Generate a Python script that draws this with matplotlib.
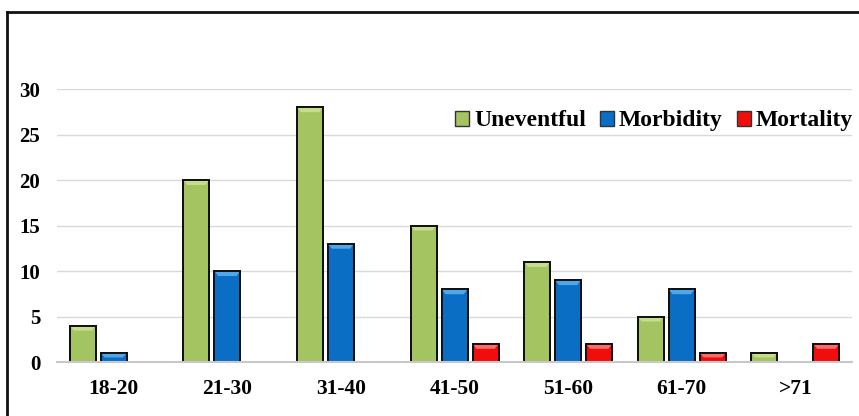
import numpy as np
import matplotlib
matplotlib.use("Agg")
import matplotlib.pyplot as plt
from matplotlib.lines import Line2D
from matplotlib.patches import Patch, Polygon

age_groups = ["18-20", "21-30", "31-40", "41-50", "51-60", "61-70", ">71"]
uneventful = [4, 20, 28, 15, 11, 5, 1]
morbidity = [1, 10, 13, 8, 9, 8, 0]
mortality = [0, 0, 0, 2, 2, 1, 2]

series = [
    ("Uneventful", uneventful, "#A4C462", "#C6DE8C"),
    ("Morbidity", morbidity, "#0A6EC4", "#4FA6EA"),
    ("Mortality", mortality, "#F20D0D", "#FF6A6A"),
]

plt.rcParams["font.family"] = ["Liberation Serif", "DejaVu Serif"]
plt.rcParams["font.weight"] = "bold"

fig = plt.figure(figsize=(8.59, 4.16), dpi=100)
ax = fig.add_axes([0.0664, 0.1298, 0.9256, 0.6562])

x = np.arange(len(age_groups))
bar_w = 0.23
step = 0.273
bevel = 0.55  # height of the top bevel in data units
for i, (name, vals, color, light) in enumerate(series):
    pos = x + (i - 1) * step
    vals = np.asarray(vals, dtype=float)
    keep = vals > 0
    bars = ax.bar(pos[keep], vals[keep], width=bar_w, color=color,
                  edgecolor="#111111", linewidth=1.4, zorder=3, label=name)
    # light bevel across the top of each bar
    for r in bars:
        x0, w, h = r.get_x(), r.get_width(), r.get_height()
        b = min(bevel, h * 0.5)
        poly = Polygon([(x0, h), (x0 + w, h), (x0 + w * 0.85, h - b),
                        (x0 + w * 0.15, h - b)], closed=True,
                       facecolor=light, edgecolor="none", zorder=3.5)
        ax.add_patch(poly)
        ax.bar(r.get_x() + w / 2, h, width=w, fill=False,
               edgecolor="#111111", linewidth=1.4, zorder=4)

ax.set_xlim(-0.5, len(age_groups) - 0.5)
ax.set_ylim(0, 30)
ax.set_yticks(range(0, 31, 5))
ax.set_xticks(x)
ax.set_xticklabels(age_groups, fontsize=15.5, fontweight="bold")
ax.tick_params(axis="y", labelsize=15, length=0, pad=12)
ax.tick_params(axis="x", length=0, pad=12)
for lab in ax.get_yticklabels():
    lab.set_fontweight("bold")

ax.grid(axis="y", color="#D9D9D9", linewidth=1, zorder=0)
ax.set_axisbelow(True)
for side in ["top", "right", "left"]:
    ax.spines[side].set_visible(False)
ax.spines["bottom"].set_color("#C8C8C8")
ax.spines["bottom"].set_linewidth(1.5)
ax.spines["bottom"].set_zorder(4.5)

handles = [Patch(facecolor=c, edgecolor="#333333", linewidth=1) for _, _, c, _ in series]
ax.legend(handles, [s[0] for s in series], loc="center right",
          bbox_to_anchor=(1.013, 0.883), ncol=3, frameon=False,
          prop={"size": 17, "weight": "bold"},
          handlelength=0.6, handleheight=0.6, handletextpad=0.2,
          columnspacing=0.6, borderaxespad=0)

# outer frame (left and top edges fall inside the canvas)
W, H = 859, 416
fig.add_artist(Line2D([7 / W, 7 / W], [0, 1 - 12 / H], color="#111111",
                      linewidth=2, transform=fig.transFigure))
fig.add_artist(Line2D([7 / W, 1], [1 - 12 / H, 1 - 12 / H], color="#111111",
                      linewidth=2, transform=fig.transFigure))

fig.savefig("out.png", dpi=100)
